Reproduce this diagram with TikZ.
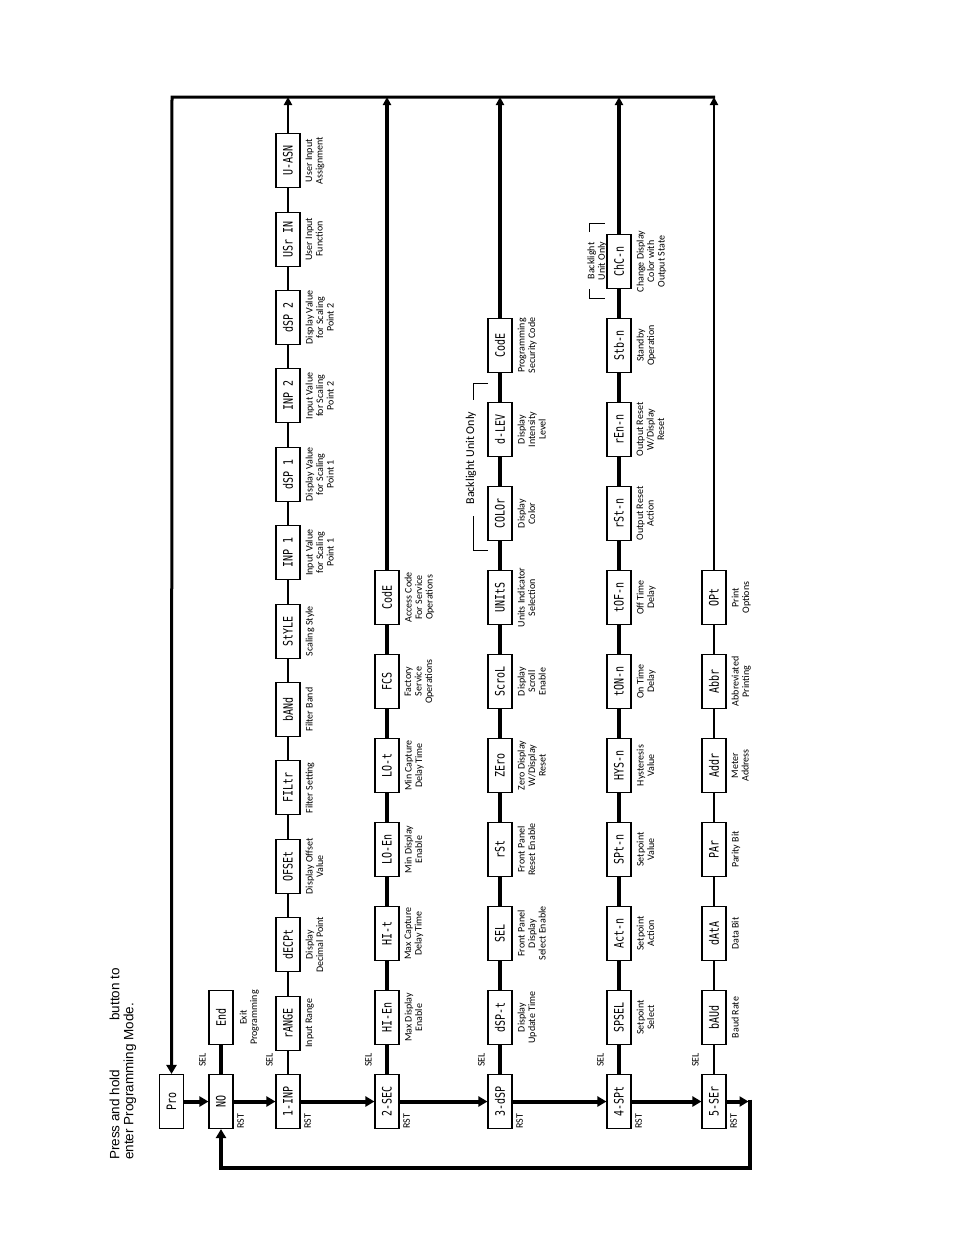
\documentclass[tikz,border=0pt]{standalone}
\usepackage{fontspec}
\usepackage{graphicx}
\usetikzlibrary{arrows.meta}
\newfontfamily\segfam[FakeStretch=0.77]{DejaVu Sans Mono}
\newfontfamily\lblfam{Carlito}
\newfontfamily\hdrfam{Liberation Sans}
\newcommand\segfont{\segfam\fontsize{13}{13}\selectfont}
\newcommand\lblfont{\lblfam\fontsize{10}{10.5}\selectfont}
\newcommand\tagfont{\lblfam\fontsize{10}{10}\selectfont}
\newcommand\hdrfont{\hdrfam\fontsize{13.5}{14}\selectfont}
\newcommand\seg[1]{\rotatebox{90}{\segfont #1}}
\begin{document}
\begin{tikzpicture}[x=1pt,y=-1pt,
  box/.style={draw, line width=1.1pt, minimum width=24pt, minimum height=54pt, inner sep=0pt, fill=white},
  lbl/.style={rotate=90, anchor=north, align=center, font=\lblfont, inner sep=0pt},
  tag/.style={rotate=90, font=\tagfont, inner sep=0pt},
  linkA/.style={line width=2.6pt},
  linkB/.style={line width=3.6pt},
  flow/.style={line width=4pt},
  tipS/.style={-{Triangle[length=8pt,width=8pt]}},
  tipM/.style={-{Triangle[length=9pt,width=10pt]}},
  brk/.style={line width=0.8pt}]
\useasboundingbox (0,0) rectangle (954,1235);

% header
\node[rotate=90, anchor=north west, align=left, font=\hdrfont, inner sep=0pt] (hdr) at (109.5,1160)
  {Press and hold\hspace{49pt}button to\\enter Programming Mode.};

% start boxes
\node[box] (pro) at (171.5,1101.5) {\seg{Pro}};
\node[box] (nO) at (221,1101.5) {\seg{NO}};
\node[box] (End) at (221,1017.5) {\seg{End}};
\node[lbl] at ([xshift=6pt]End.east) {Exit\\Programming};

% row 1
\foreach \t [count=\k from 0] in {1-INP,rANGE,dECPt,OFSEt,FILtr,bANd,StYLE,INP 1,dSP 1,INP 2,dSP 2,USr IN,U-ASN}
  \node[box] (r1-\k) at (288,{1101.5-78.4*\k}) {\seg{\t}};
\foreach \t [count=\k] in {{Input Range},{Display\\Decimal Point},{Display Offset\\Value},{Filter Setting},{Filter Band},{Scaling Style},{Input Value\\for Scaling\\Point 1},{Display Value\\for Scaling\\Point 1},{Input Value\\for Scaling\\Point 2},{Display Value\\for Scaling\\Point 2},{User Input\\Function},{User Input\\Assignment}}
  \node[lbl] at ([xshift=5pt]r1-\k.east) {\t};

% row 2
\foreach \t [count=\k from 0] in {2-SEC,HI-En,HI-t,LO-En,LO-t,FCS,CodE}
  \node[box] (r2-\k) at (387,{1101.5-84*\k}) {\seg{\t}};
\foreach \t [count=\k] in {{Max Display\\Enable},{Max Capture\\Delay Time},{Min Display\\Enable},{Min Capture\\Delay Time},{Factory\\Service\\Operations},{Access Code\\For Service\\Operations}}
  \node[lbl] at ([xshift=5pt]r2-\k.east) {\t};

% row 3
\foreach \t [count=\k from 0] in {3-dSP,dSP-t,SEL,rSt,ZEro,ScroL,UNItS,COLOr,d-LEV,CodE}
  \node[box] (r3-\k) at (500,{1101.5-84*\k}) {\seg{\t}};
\foreach \t [count=\k] in {{Display\\Update Time},{Front Panel\\Display\\Select Enable},{Front Panel\\Reset Enable},{Zero Display\\W/Display\\Reset},{Display\\Scroll\\Enable},{Units Indicator\\Selection},{Display\\Color},{Display\\Intensity\\Level},{Programming\\Security Code}}
  \node[lbl] at ([xshift=5pt]r3-\k.east) {\t};

% row 4
\foreach \t [count=\k from 0] in {4-SPt,SPSEL,Act-n,SPt-n,HYS-n,tON-n,tOF-n,rSt-n,rEn-n,Stb-n,ChC-n}
  \node[box] (r4-\k) at (619,{1101.5-84*\k}) {\seg{\t}};
\foreach \t [count=\k] in {{Setpoint\\Select},{Setpoint\\Action},{Setpoint\\Value},{Hysteresis\\Value},{On Time\\Delay},{Off Time\\Delay},{Output Reset\\Action},{Output Reset\\W/Display\\Reset},{Standby\\Operation},{Change Display\\Color with\\Output State}}
  \node[lbl] at ([xshift=5pt]r4-\k.east) {\t};

% row 5
\foreach \t [count=\k from 0] in {5-SEr,bAUd,dAtA,PAr,Addr,Abbr,OPt}
  \node[box] (r5-\k) at (714,{1101.5-84*\k}) {\seg{\t}};
\foreach \t [count=\k] in {{Baud Rate},{Data Bit},{Parity Bit},{Meter\\Address},{Abbreviated\\Printing},{Print\\Options}}
  \node[lbl] at ([xshift=5pt]r5-\k.east) {\t};

% SEL / RST tags
\foreach \n in {nO,r1-0,r2-0,r3-0,r4-0,r5-0}{
  \node[tag] at ([xshift=-6pt,yshift=14pt]\n.north west) {SEL};
  \node[tag] at ([xshift=7pt,yshift=8pt]\n.south east) {RST};
}

% backlight notes
\node[rotate=90, font=\lblfam\fontsize{12}{12.5}\selectfont, inner sep=0pt] (bl3) at (471,458) {Backlight Unit Only};
\draw[brk] (488,383) -- (473,383) -- (473,400);
\draw[brk] (473,516) -- (473,550) -- (488,550);
\node[rotate=90, font=\lblfont, align=center, inner sep=0pt] (bl4) at (597,261) {Backlight\\Unit Only};
\draw[brk] (589,232) -- (589,223) -- (605,223);
\draw[brk] (589,289) -- (589,298) -- (605,298);

% vertical chains
\draw[linkB] (nO.north) -- (End.south);
\foreach \k [evaluate=\k as \j using int(\k+1)] in {0,...,11}
  \draw[linkA] (r1-\k.north) -- (r1-\j.south);
\foreach \k [evaluate=\k as \j using int(\k+1)] in {0,...,5}
  \draw[linkB] (r2-\k.north) -- (r2-\j.south);
\foreach \k [evaluate=\k as \j using int(\k+1)] in {0,...,8}
  \draw[linkB] (r3-\k.north) -- (r3-\j.south);
\foreach \k [evaluate=\k as \j using int(\k+1)] in {0,...,9}
  \draw[linkB] (r4-\k.north) -- (r4-\j.south);
\foreach \k [evaluate=\k as \j using int(\k+1)] in {0,...,5}
  \draw[linkA] (r5-\k.north) -- (r5-\j.south);

% top return line
\coordinate (tl) at (172,97);
\coordinate (tr) at (715,97);
\coordinate (t1) at (288,97);
\coordinate (t2) at (387,97);
\coordinate (t3) at (500,97);
\coordinate (t4) at (619,97);
\coordinate (t5) at (714,97);
\draw[line width=3pt, line join=miter, tipM] (tr) -- (tl) -- (pro.north);
\draw[linkA, tipS] (r1-12.north) -- (t1);
\draw[linkB, tipS] (r2-6.north) -- (t2);
\draw[linkB, tipS] (r3-9.north) -- (t3);
\draw[linkB, tipS] (r4-10.north) -- (t4);
\draw[linkA, tipS] (r5-6.north) -- (t5);

% main flow
\draw[flow, tipM] (pro.east) -- (nO.west);
\draw[flow, tipM] (nO.east) -- (r1-0.west);
\draw[flow, tipM] (r1-0.east) -- (r2-0.west);
\draw[flow, tipM] (r2-0.east) -- (r3-0.west);
\draw[flow, tipM] (r3-0.east) -- (r4-0.west);
\draw[flow, tipM] (r4-0.east) -- (r5-0.west);
\coordinate (rt) at (748.5,1101.5);
\coordinate (rt2) at (750,1099.5);
\coordinate (rb) at (750,1168);
\coordinate (lb) at (221,1168);
\draw[flow, tipM] (r5-0.east) -- (rt);
\draw[flow, line join=miter, tipM] (rt2) -- (rb) -- (lb) -- (nO.south);
\end{tikzpicture}
\end{document}
